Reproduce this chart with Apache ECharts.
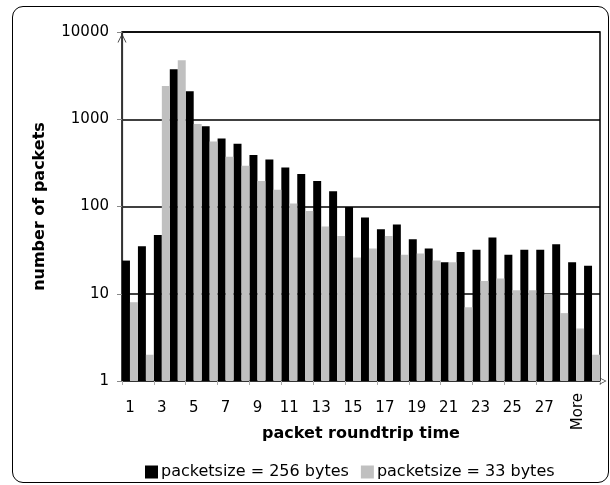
<!DOCTYPE html>
<html>
<head>
<meta charset="utf-8">
<script src="https://cdn.jsdelivr.net/npm/echarts@6/dist/echarts.min.js"></script>
<style>
  body { margin: 0; background: #fff; }
  #frame {
    position: absolute; left: 12px; top: 6px;
    width: 595px; height: 475px;
    border: 1.5px solid #000; border-radius: 11px;
  }
  #chart { position: absolute; left: 0; top: 0; width: 610px; height: 485px; }
</style>
</head>
<body>
<div id="frame"></div>
<div id="chart"></div>
<script>
const categories = ["1", "2", "3", "4", "5", "6", "7", "8", "9", "10",
  "11", "12", "13", "14", "15", "16", "17", "18", "19", "20",
  "21", "22", "23", "24", "25", "26", "27", "28", "29", "More"];
const packets256 = [24, 35, 47, 3740, 2100, 830, 600, 525, 390, 345,
  280, 235, 196, 150, 99, 75, 55, 62, 42, 33,
  23, 30, 32, 44, 28, 32, 32, 37, 23, 21];
const packets33 = [8, 2, 2400, 4750, 880, 555, 372, 294, 196, 156,
  108, 89, 59, 46, 26, 33, 46, 28, 29, 24,
  23, 7, 14, 15, 11, 11, 10, 6, 4, 2];

const FONT = "DejaVu Sans";
// open chevron used as axis arrow
const chevron = "path://M0,10 L5,0 L10,10 L9,10 L5,2 L1,10 Z";

const chartDom = document.getElementById("chart");
const myChart = echarts.init(chartDom);
const option = {
  animation: false,
  textStyle: { fontFamily: FONT },
  grid: {
    left: 122,
    right: 10,
    top: 32,
    bottom: 104,
    show: true,
    borderColor: "#000",
    borderWidth: 1.5,
  },
  legend: {
    left: 140,
    top: 459,
    itemWidth: 13,
    itemHeight: 13,
    itemGap: 12,
    icon: "rect",
    textStyle: { fontFamily: FONT, fontSize: 16, color: "#000", padding: [0, 0, 0, -2] },
    data: ["packetsize = 256 bytes", "packetsize = 33 bytes"],
  },
  xAxis: [
    {
      type: "category",
      data: categories,
      name: "packet roundtrip time",
      nameLocation: "middle",
      nameGap: 45,
      nameTextStyle: { fontFamily: FONT, fontSize: 16, fontWeight: "bold", color: "#000" },
      axisLine: {
        lineStyle: { color: "#333", width: 1.2 },
        symbol: ["none", chevron],
        symbolSize: [11, 7],
        symbolOffset: [0, 3],
      },
      axisTick: { show: true, length: 4, lineStyle: { color: "#aaa" } },
      axisLabel: {
        interval: (i) => i % 2 === 0 && i <= 26,
        fontFamily: FONT,
        fontSize: 15,
        color: "#000",
        margin: 20,
      },
    },
    {
      type: "category",
      data: categories,
      position: "bottom",
      axisLine: { show: false },
      axisTick: { show: false },
      axisLabel: {
        interval: (i) => i === 29,
        rotate: 90,
        color: "#000",
        margin: 12,
        formatter: (v) => "{m|" + v + "}",
        rich: {
          m: { fontFamily: FONT, fontSize: 15, color: "#000", padding: [0, 0, 28, 0] },
        },
      },
    },
  ],
  yAxis: {
    type: "log",
    min: 1,
    max: 10000,
    logBase: 10,
    name: "number of packets",
    nameLocation: "middle",
    nameGap: 74,
    nameTextStyle: { fontFamily: FONT, fontSize: 16, fontWeight: "bold", color: "#000" },
    axisLine: {
      show: true,
      lineStyle: { color: "#333", width: 1.2 },
      symbol: ["none", chevron],
      symbolSize: [11, 9],
      symbolOffset: [0, -6],
    },
    axisTick: { show: true, length: 5, lineStyle: { color: "#888" } },
    axisLabel: {
      fontFamily: FONT,
      fontSize: 15,
      color: "#000",
      margin: 13,
      formatter: (v) => String(v),
    },
    splitLine: { show: true, lineStyle: { color: "#000", width: 1.5 } },
  },
  series: [
    {
      name: "packetsize = 256 bytes",
      type: "bar",
      data: packets256,
      barGap: "0%",
      barCategoryGap: "0%",
      itemStyle: { color: "#000" },
    },
    {
      name: "packetsize = 33 bytes",
      type: "bar",
      data: packets33,
      itemStyle: { color: "#c0c0c0" },
    },
  ],
};
myChart.setOption(option);
</script>
</body>
</html>
